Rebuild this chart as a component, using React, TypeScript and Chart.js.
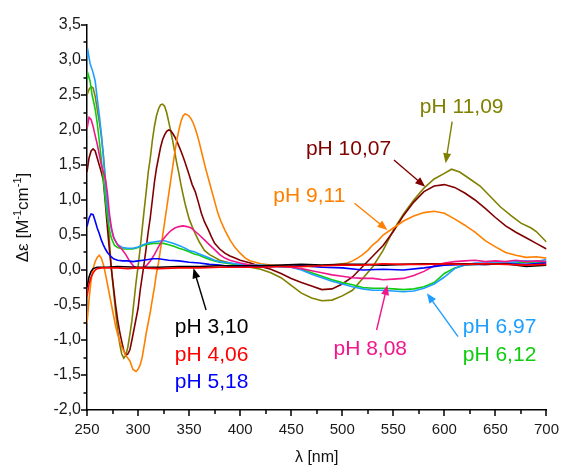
import React, { useEffect, useRef } from 'react';
import { Chart, registerables } from 'chart.js';
Chart.register(...registerables);

// ---- axis ticks ----
const xTickValues = [250, 300, 350, 400, 450, 500, 550, 600, 650, 700];
const xMinorValues = [275, 325, 375, 425, 475, 525, 575, 625, 675];
const yTickValues = [-2, -1.5, -1, -0.5, 0, 0.5, 1, 1.5, 2, 2.5, 3, 3.5];
const yMinorValues = [-1.75, -1.25, -0.75, -0.25, 0.25, 0.75, 1.25, 1.75, 2.25, 2.75, 3.25];

// ---- series: [wavelength nm, Δε] ----
const ph310: [number, number][] = [[250,-0.25],[252,-0.1],[254,-0.02],[256,0.02],[260,0.04],[270,0.04],[280,0.05],[300,0.04],[320,0.04],[340,0.05],[360,0.05],[380,0.06],[400,0.06],[420,0.06],[440,0.07],[460,0.08],[480,0.07],[500,0.08],[520,0.08],[540,0.07],[560,0.08],[580,0.09],[600,0.09],[620,0.09],[640,0.08],[660,0.09],[680,0.05],[700,0.07]];
const ph406: [number, number][] = [[250,-0.38],[252,-0.2],[254,-0.1],[256,-0.04],[258,0.0],[260,0.02],[265,0.03],[270,0.03],[280,0.03],[290,0.02],[300,0.03],[320,0.02],[340,0.03],[360,0.03],[380,0.04],[400,0.04],[420,0.04],[440,0.05],[460,0.05],[480,0.06],[500,0.07],[520,0.07],[540,0.09],[560,0.08],[580,0.08],[600,0.09],[620,0.08],[640,0.09],[660,0.08],[680,0.07],[700,0.08]];
const ph518: [number, number][] = [[250,0.62],[252,0.74],[254,0.8],[256,0.79],[258,0.7],[260,0.6],[262,0.52],[264,0.43],[266,0.36],[268,0.3],[270,0.25],[273,0.2],[276,0.16],[280,0.14],[285,0.13],[290,0.13],[295,0.12],[300,0.13],[305,0.14],[310,0.15],[315,0.16],[320,0.16],[325,0.15],[330,0.14],[340,0.13],[350,0.11],[360,0.1],[370,0.08],[380,0.07],[390,0.05],[400,0.05],[420,0.05],[440,0.05],[460,0.06],[480,0.04],[500,0.03],[520,0.0],[540,0.01],[560,0.0],[580,0.03],[600,0.07],[620,0.08],[640,0.08],[660,0.09],[680,0.08],[700,0.1]];
const ph612: [number, number][] = [[250,2.72],[251,2.8],[253,2.7],[255,2.5],[258,2.3],[260,2.1],[262,1.85],[264,1.58],[266,1.3],[268,1.0],[270,0.75],[272,0.57],[274,0.45],[277,0.35],[280,0.32],[285,0.3],[290,0.3],[295,0.3],[300,0.32],[305,0.35],[310,0.37],[315,0.38],[320,0.38],[325,0.38],[330,0.36],[335,0.34],[340,0.31],[345,0.29],[350,0.26],[355,0.23],[360,0.21],[365,0.18],[370,0.15],[375,0.13],[380,0.11],[390,0.09],[400,0.07],[410,0.07],[420,0.06],[430,0.06],[440,0.05],[450,0.04],[460,0.01],[470,-0.04],[480,-0.09],[490,-0.14],[500,-0.18],[510,-0.21],[520,-0.25],[530,-0.26],[540,-0.26],[550,-0.27],[560,-0.28],[570,-0.27],[580,-0.24],[590,-0.18],[600,-0.05],[610,0.03],[620,0.07],[630,0.08],[640,0.09],[650,0.1],[660,0.1],[670,0.1],[680,0.11],[690,0.1],[700,0.12]];
const ph697: [number, number][] = [[250,3.05],[251,3.12],[253,2.95],[256,2.82],[258,2.7],[260,2.45],[262,2.22],[264,1.95],[266,1.62],[268,1.25],[270,0.92],[272,0.72],[274,0.57],[277,0.44],[280,0.36],[285,0.32],[290,0.31],[295,0.31],[300,0.33],[305,0.36],[310,0.39],[315,0.4],[320,0.41],[325,0.42],[330,0.4],[335,0.38],[340,0.35],[345,0.32],[350,0.28],[355,0.26],[360,0.23],[365,0.2],[370,0.17],[375,0.14],[380,0.12],[390,0.1],[400,0.08],[410,0.07],[420,0.07],[430,0.06],[440,0.05],[450,0.04],[460,0.0],[470,-0.06],[480,-0.11],[490,-0.16],[500,-0.2],[510,-0.24],[520,-0.27],[530,-0.29],[540,-0.29],[550,-0.3],[560,-0.31],[570,-0.3],[580,-0.26],[590,-0.2],[600,-0.1],[610,0.02],[620,0.07],[630,0.1],[640,0.1],[650,0.12],[660,0.1],[670,0.12],[680,0.13],[690,0.12],[700,0.15]];
const ph808: [number, number][] = [[250,2.02],[252,2.18],[254,2.15],[256,2.05],[258,1.92],[260,1.8],[262,1.65],[264,1.5],[266,1.4],[268,1.3],[270,1.1],[272,0.8],[274,0.6],[276,0.46],[280,0.36],[284,0.3],[288,0.22],[292,0.12],[296,0.05],[300,0.02],[304,0.03],[308,0.06],[312,0.13],[316,0.22],[320,0.33],[324,0.43],[328,0.5],[332,0.56],[336,0.6],[340,0.62],[344,0.63],[348,0.62],[352,0.6],[356,0.55],[360,0.5],[365,0.43],[370,0.36],[375,0.29],[380,0.22],[385,0.17],[390,0.14],[400,0.1],[410,0.07],[420,0.06],[430,0.05],[440,0.05],[450,0.04],[460,0.02],[470,-0.01],[480,-0.04],[490,-0.07],[500,-0.09],[510,-0.11],[520,-0.12],[530,-0.12],[540,-0.14],[550,-0.13],[560,-0.12],[570,-0.08],[580,-0.02],[590,0.06],[600,0.1],[610,0.12],[620,0.13],[630,0.14],[640,0.12],[650,0.13],[660,0.12],[670,0.14],[680,0.12],[690,0.13],[700,0.12]];
const ph911: [number, number][] = [[250,-0.76],[252,-0.42],[254,-0.15],[256,0.02],[258,0.12],[260,0.18],[262,0.21],[264,0.17],[266,0.08],[268,-0.05],[270,-0.2],[272,-0.35],[274,-0.5],[276,-0.65],[278,-0.8],[280,-0.92],[284,-1.1],[288,-1.22],[292,-1.3],[295,-1.42],[298,-1.45],[300,-1.42],[302,-1.36],[304,-1.25],[306,-1.08],[308,-0.9],[310,-0.75],[312,-0.6],[314,-0.42],[316,-0.25],[318,-0.05],[320,0.1],[322,0.3],[324,0.48],[326,0.68],[328,0.88],[330,1.08],[332,1.28],[334,1.48],[336,1.68],[338,1.86],[340,2.0],[342,2.12],[344,2.2],[346,2.23],[348,2.22],[350,2.2],[352,2.16],[354,2.1],[356,2.02],[358,1.93],[360,1.82],[363,1.64],[366,1.46],[369,1.3],[372,1.14],[375,0.98],[378,0.82],[381,0.7],[385,0.57],[390,0.43],[395,0.32],[400,0.24],[405,0.17],[410,0.13],[415,0.11],[420,0.09],[430,0.07],[440,0.06],[450,0.05],[460,0.05],[470,0.05],[480,0.06],[490,0.07],[500,0.09],[505,0.1],[510,0.13],[515,0.17],[520,0.22],[525,0.28],[530,0.36],[535,0.42],[540,0.5],[550,0.6],[560,0.7],[570,0.77],[580,0.82],[590,0.84],[600,0.81],[610,0.73],[620,0.64],[630,0.54],[640,0.42],[650,0.33],[660,0.25],[670,0.21],[680,0.18],[690,0.19],[700,0.17]];
const ph1007: [number, number][] = [[250,1.4],[252,1.6],[254,1.7],[256,1.73],[258,1.7],[260,1.6],[262,1.5],[264,1.4],[266,1.28],[268,0.95],[270,0.6],[272,0.28],[274,0.0],[276,-0.25],[278,-0.5],[280,-0.71],[282,-0.88],[284,-1.02],[286,-1.15],[288,-1.22],[290,-1.2],[292,-1.14],[294,-1.0],[296,-0.85],[298,-0.7],[300,-0.55],[302,-0.3],[304,-0.1],[306,0.1],[308,0.32],[310,0.55],[312,0.75],[314,1.0],[316,1.25],[318,1.45],[320,1.6],[322,1.75],[324,1.86],[326,1.93],[328,1.98],[330,2.0],[332,1.99],[334,1.95],[336,1.9],[338,1.84],[340,1.77],[342,1.7],[344,1.62],[346,1.54],[348,1.45],[350,1.36],[353,1.22],[356,1.12],[359,0.97],[362,0.81],[365,0.69],[369,0.57],[372,0.47],[375,0.38],[380,0.3],[385,0.24],[390,0.2],[395,0.17],[400,0.14],[410,0.1],[420,0.05],[430,0.01],[440,-0.05],[450,-0.12],[460,-0.18],[470,-0.23],[480,-0.28],[490,-0.27],[500,-0.2],[510,-0.1],[520,0.05],[530,0.2],[540,0.35],[550,0.55],[560,0.78],[570,0.97],[580,1.12],[590,1.2],[600,1.22],[610,1.18],[620,1.1],[630,1.0],[640,0.88],[650,0.75],[660,0.63],[670,0.54],[680,0.46],[690,0.38],[700,0.3]];
const ph1109: [number, number][] = [[250,2.5],[252,2.58],[254,2.62],[256,2.6],[258,2.48],[260,2.3],[262,2.12],[264,1.92],[266,1.65],[268,1.3],[270,0.85],[272,0.4],[274,0.0],[276,-0.3],[278,-0.6],[280,-0.86],[282,-1.05],[284,-1.2],[286,-1.26],[288,-1.22],[290,-1.1],[292,-0.92],[294,-0.72],[296,-0.45],[298,-0.18],[300,0.05],[302,0.3],[304,0.58],[306,0.86],[308,1.12],[310,1.4],[312,1.6],[314,1.85],[316,2.05],[318,2.2],[320,2.3],[322,2.36],[324,2.37],[326,2.34],[328,2.25],[330,2.12],[332,1.98],[334,1.84],[336,1.68],[338,1.52],[340,1.38],[342,1.22],[344,1.08],[346,0.95],[348,0.84],[350,0.73],[353,0.62],[356,0.52],[360,0.4],[365,0.28],[370,0.22],[375,0.18],[380,0.14],[390,0.1],[400,0.06],[410,0.04],[420,0.01],[430,-0.04],[440,-0.11],[450,-0.22],[460,-0.33],[470,-0.4],[480,-0.44],[490,-0.43],[500,-0.37],[510,-0.29],[520,-0.12],[530,0.05],[540,0.28],[550,0.57],[560,0.8],[570,1.0],[580,1.17],[590,1.3],[600,1.38],[607,1.44],[615,1.4],[625,1.3],[635,1.2],[645,1.05],[655,0.9],[665,0.78],[675,0.67],[685,0.6],[690,0.55],[700,0.4]];

const seriesLabels = ['pH 4,06', 'pH 3,10', 'pH 5,18', 'pH 8,08', 'pH 6,97', 'pH 6,12', 'pH 9,11', 'pH 10,07', 'pH 11,09'];
const seriesColors = ['#ff0000', '#000000', '#0000ff', '#f0168c', '#1e9fff', '#10cc10', '#ff8000', '#800000', '#808000'];
const seriesData = [ph406, ph310, ph518, ph808, ph697, ph612, ph911, ph1007, ph1109];

// ---- annotations (data coordinates) ----
const noteTexts = ['pH 3,10', 'pH 4,06', 'pH 5,18', 'pH 8,08', 'pH 6,97', 'pH 6,12', 'pH 9,11', 'pH 10,07', 'pH 11,09'];
const noteColors = ['#000000', '#ff0000', '#0000ff', '#f0168c', '#1e9fff', '#10cc10', '#ff8000', '#800000', '#808000'];
const noteX = [336, 336, 336, 491.4, 618, 618, 432.5, 464.4, 576];
const noteY = [-0.9, -1.3, -1.686, -1.214, -0.9, -1.3, 0.971, 1.643, 2.243];

const arrowColors = ['#000000', '#f0168c', '#1e9fff', '#ff8000', '#800000', '#808000'];
const arrowFrom: [number, number][] = [[366.6, -0.571], [533.6, -0.857], [613.4, -0.953], [512, 0.953], [550.6, 1.571], [607.6, 2.119]];
const arrowTo: [number, number][] = [[354.3, 0.024], [544.2, -0.214], [582.9, -0.333], [544.2, 0.571], [581.2, 1.19], [601.2, 1.524]];

const FONT = '"Liberation Sans", Arial, sans-serif';
const fmt = (v: number) => v.toFixed(1).replace('.', ',');

const decor = {
  id: 'decor',
  afterDraw(chart: any) {
    const ctx: CanvasRenderingContext2D = chart.ctx;
    const xs = chart.scales.x;
    const ys = chart.scales.y;
    const { left, right, top, bottom } = chart.chartArea;
    ctx.save();
    // tick marks
    ctx.strokeStyle = '#000';
    ctx.lineWidth = 1.5;
    ctx.beginPath();
    xTickValues.forEach((v) => { const p = Math.round(xs.getPixelForValue(v)); ctx.moveTo(p, bottom); ctx.lineTo(p, bottom + 6); });
    xMinorValues.forEach((v) => { const p = Math.round(xs.getPixelForValue(v)); ctx.moveTo(p, bottom); ctx.lineTo(p, bottom + 4); });
    yTickValues.forEach((v) => { const p = Math.round(ys.getPixelForValue(v)); ctx.moveTo(left, p); ctx.lineTo(left - 6, p); });
    yMinorValues.forEach((v) => { const p = Math.round(ys.getPixelForValue(v)); ctx.moveTo(left, p); ctx.lineTo(left - 3.5, p); });
    ctx.stroke();

    // arrows
    arrowFrom.forEach((f, i) => {
      const x1 = xs.getPixelForValue(f[0]), y1 = ys.getPixelForValue(f[1]);
      const x2 = xs.getPixelForValue(arrowTo[i][0]), y2 = ys.getPixelForValue(arrowTo[i][1]);
      const ang = Math.atan2(y2 - y1, x2 - x1);
      const hl = 10, hw = 4;
      ctx.strokeStyle = arrowColors[i];
      ctx.fillStyle = arrowColors[i];
      ctx.lineWidth = 1.4;
      ctx.beginPath();
      ctx.moveTo(x1, y1);
      ctx.lineTo(x2 - Math.cos(ang) * hl * 0.8, y2 - Math.sin(ang) * hl * 0.8);
      ctx.stroke();
      ctx.beginPath();
      ctx.moveTo(x2, y2);
      ctx.lineTo(x2 - Math.cos(ang) * hl - Math.sin(ang) * hw, y2 - Math.sin(ang) * hl + Math.cos(ang) * hw);
      ctx.lineTo(x2 - Math.cos(ang) * hl + Math.sin(ang) * hw, y2 - Math.sin(ang) * hl - Math.cos(ang) * hw);
      ctx.closePath();
      ctx.fill();
    });

    // annotation texts
    ctx.font = `21px ${FONT}`;
    ctx.textAlign = 'left';
    ctx.textBaseline = 'alphabetic';
    noteTexts.forEach((t, i) => {
      ctx.fillStyle = noteColors[i];
      ctx.fillText(t, xs.getPixelForValue(noteX[i]), ys.getPixelForValue(noteY[i]));
    });

    // x title
    ctx.fillStyle = '#111';
    ctx.font = `16px ${FONT}`;
    ctx.textAlign = 'center';
    ctx.fillText('λ [nm]', (left + right) / 2, 462);

    // y title with superscripts
    const segs = [
      { t: 'Δε [M', s: false },
      { t: '-1', s: true },
      { t: 'cm', s: false },
      { t: '-1', s: true },
      { t: ']', s: false },
    ];
    const big = `17px ${FONT}`, small = `11px ${FONT}`;
    let total = 0;
    segs.forEach((sg) => { ctx.font = sg.s ? small : big; total += ctx.measureText(sg.t).width; });
    ctx.translate(28, (top + bottom) / 2);
    ctx.rotate(-Math.PI / 2);
    ctx.textAlign = 'left';
    let cx = -total / 2;
    segs.forEach((sg) => {
      ctx.font = sg.s ? small : big;
      ctx.fillText(sg.t, cx, sg.s ? -7 : 0);
      cx += ctx.measureText(sg.t).width;
    });
    ctx.restore();
  },
};

export default function App() {
  const ref = useRef<HTMLCanvasElement | null>(null);
  useEffect(() => {
    if (!ref.current) return;
    const chart = new Chart(ref.current, {
      type: 'line',
      data: {
        datasets: seriesData.map((d, i) => ({
          label: seriesLabels[i],
          data: d.map(([x, y]) => ({ x, y })),
          borderColor: seriesColors[i],
          backgroundColor: seriesColors[i],
          borderWidth: 1.6,
          pointRadius: 0,
          tension: 0,
          fill: false,
        })),
      },
      options: {
        animation: false,
        responsive: false,
        devicePixelRatio: 1,
        layout: { padding: { left: 0, right: 17, top: 25, bottom: 0 } },
        plugins: { legend: { display: false }, tooltip: { enabled: false } },
        scales: {
          x: {
            type: 'linear',
            min: 250,
            max: 700,
            afterFit: (s: any) => { s.height = 61; },
            afterBuildTicks: (s: any) => { s.ticks = xTickValues.map((v) => ({ value: v })); },
            grid: { display: false, drawTicks: false },
            border: { display: true, color: '#000', width: 1.5 },
            ticks: { padding: 11, color: '#1a1a1a', font: { family: FONT, size: 15 }, maxRotation: 0, callback: (v: any) => String(v) },
          },
          y: {
            type: 'linear',
            min: -2,
            max: 3.5,
            afterFit: (s: any) => { s.width = 87; },
            afterBuildTicks: (s: any) => { s.ticks = yTickValues.map((v) => ({ value: v })); },
            grid: { display: false, drawTicks: false },
            border: { display: true, color: '#000', width: 1.5 },
            ticks: { padding: 6, color: '#1a1a1a', font: { family: FONT, size: 16 }, callback: (v: any) => fmt(Number(v)) },
          },
        },
      },
      plugins: [decor],
    });
    return () => chart.destroy();
  }, []);
  return (
    <div style={{ position: 'fixed', left: 0, top: 0, width: 570, height: 471, background: '#fff' }}>
      <canvas ref={ref} width={570} height={471} style={{ width: 570, height: 471, display: 'block' }} />
    </div>
  );
}
